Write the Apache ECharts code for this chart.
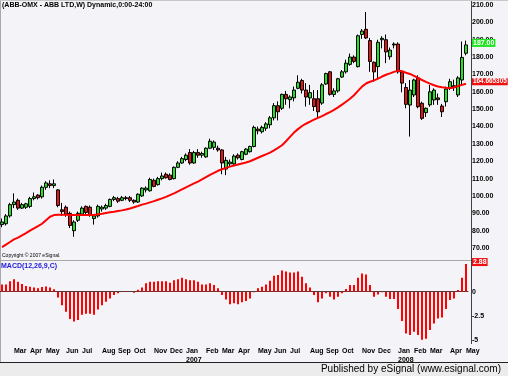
<!DOCTYPE html>
<html>
<head>
<meta charset="utf-8">
<script src="https://cdn.jsdelivr.net/npm/echarts@6/dist/echarts.min.js"></script>
<style>
html,body{margin:0;padding:0;background:#f4f3f7}
#chart{width:508px;height:376px}
</style>
</head>
<body>
<div id="chart"></div>
<script>
// weekly bars, first week starts Monday 2006-02-13
var firstWeek = Date.UTC(2006, 1, 13);
var monthNames = ['Jan','Feb','Mar','Apr','May','Jun','Jul','Aug','Sep','Oct','Nov','Dec'];

var opens = [83.5,84,88.5,95,97.5,93,93.5,94,98.5,100.5,
  99.5,105,107,106,103.5,92,93.5,90,80,86,
  89.5,94,93.5,87,88.5,92.5,93,94,98,98.5,
  97.5,99,99,97.5,96.5,100,103.5,103,109,106.5,
  110,112.5,112,110,116.5,119,121,125,119,125,
  123.5,122.5,127.5,128,127.5,126.5,115.5,118.5,118.5,123.5,
  121,124,125.5,128.5,138.5,137,139,141,145,152,
  150.5,158.5,155.5,156.5,162,166.5,161,156.5,156,156,
  153.5,164.5,171.5,158.5,160.5,168.5,171.5,175.8,180,174.5,
  193,196,189.5,177,174.5,190,190,180.2,187.5,187.5,
  171.5,162.5,152.4,158.2,168,153.4,148,152.5,155.3,156.5,
  151.8,154.3,162,163.5,158.2,166.8,182.2];
var closes = [85,88.5,95,96.5,93,95,95.5,98.5,99.5,99,
  105,107.5,106,107,94.5,91,89.5,83,85,90,
  93,90.5,89,88.5,94,93.5,94.5,98,99,97,
  99,98.5,97.5,96.5,101,104.5,104.5,109.5,105.5,110,
  111.5,110.5,109.5,116.5,119,121.5,123.5,119,125,123.5,
  124.5,127.5,131.5,131,126.5,119,120.5,119.5,123,122,
  125.5,127,128.5,139.5,137.5,139.5,141.5,145,152,148.5,
  158.5,156,157,161,165.5,161,157,159.5,151.5,148.5,
  164,170.5,158.5,160.5,167.5,171.5,176.5,180,177.5,192.3,
  195,191,177.5,171.5,188.5,190.8,183,184,187,171.5,
  165,152.8,161,166.8,151.4,144.7,150.5,160,161,155.5,
  148.5,161.6,165.8,162.5,168,179.8,187];
var lows = [82,83,87.5,93,92,92.5,92.5,93,97.5,98,
  98.5,103.5,104.5,104.5,93.5,88.5,88,81.5,76.5,85,
  88.5,89.5,88,83.5,87.5,91,92,93.5,97,96,
  97,97.5,96.5,95.5,96,99.5,102,102.5,105,106,
  109,110,109,109.5,116,118.5,120,118,118.5,122,
  122,122,127,126.5,125.5,112.5,112,117,117.5,121,
  120.5,123.5,125,128,135.5,136,137.5,139,143.5,143.5,
  149.5,152.5,150.5,154.5,161.5,159,151.5,152.5,149,144.5,
  152.5,164,157.8,157,159.5,168,170.5,175,176.5,174,
  190.5,190.5,171.5,165.8,168,185,176.5,178.5,185,170.5,
  159.7,150.5,134.2,157,150.5,143.8,145.5,151.4,152.5,152.5,
  145.5,151.5,161,160.5,157,163.5,181];
var highs = [87,89.5,96,101.5,98.5,96,96,99.5,102,101,
  106,108.5,109,109.5,104,96,94.5,91,86,91,
  94,94.5,94.5,89.5,95,94.5,95.5,98.5,100,99.5,
  100,100,100,98,101.5,105,105.5,110.5,110,111,
  113.5,113.5,113,117,120,122.5,124.5,127,126,127,
  125.5,128,133,132,129,127,122.5,121,124,124.5,
  126,127.5,129,140.5,140,140.5,142.5,146,153.5,154.5,
  159,160.5,158,163,169.5,167.5,165,164,161,161,
  165,171,172,162,168,172.5,178.5,182,181,193,
  196.2,206,191,177.5,190,192,193,185.5,188.5,188.5,
  172.5,165,166.8,167.5,169.5,154.3,151,164,162,159,
  153,163,167.5,167,169,189,189.5];
var maValues = [70.5,72,73.5,75,76,77.3,78.6,80,81.3,82.6,
  84,86,88,89,89.2,89.2,89.2,89.1,89,89,
  89,89,89,89,89.5,89.8,90.2,90.6,90.9,91.3,
  91.7,92.2,92.8,93.5,94.2,95,95.6,96.3,97,97.8,
  98.6,99.5,100.5,101.5,102.6,103.8,105,106.1,107.2,108.3,
  109.5,110.8,112.1,113.3,114.5,115.4,116.2,116.9,117.5,118.1,
  118.7,119.3,120,121,122,123,124,125,126.3,127.7,
  129.2,131.5,134,136.5,138.5,140.3,141.6,142.8,144,145,
  146,147.2,148.3,149.6,151,152.6,154.3,156,158,160.5,
  163,164.8,165.8,166.6,167.6,168.8,169.8,170.6,171.5,172.2,
  171.8,171,170.3,169.2,168,166.8,165.7,164.7,163.8,163.1,
  162.6,162.3,162.2,162.5,163.3,164,164.665305];
var macdValues = [0.76,0.76,1.1,1.3,1.04,0.8,0.6,0.52,0.45,0.35,
  0.5,0.55,0.45,0.25,-0.6,-1.4,-2.1,-2.85,-3.1,-2.95,
  -2.4,-2.3,-2.3,-2.4,-1.85,-1.4,-1.05,-0.7,-0.35,-0.17,
  -0.03,0.07,-0.04,-0.1,0.2,0.45,0.87,1.04,1.04,1.1,
  1.1,1.1,0.94,1.2,1.3,1.46,1.3,1.2,1.2,1.04,
  0.76,0.76,0.87,0.7,0.35,-0.35,-0.8,-1.3,-1.2,-1.3,
  -1.1,-0.97,-0.7,-0.07,0.35,0.52,0.76,1.15,1.67,1.74,
  2.2,2.1,2.0,2.0,2.1,1.56,0.87,0.45,-0.35,-1.1,
  -0.7,-0.17,-0.52,-0.8,-0.52,-0.17,0.28,0.7,0.7,1.46,
  1.9,1.8,0.7,-0.52,-0.28,-0.07,-0.52,-0.76,-0.76,-1.8,
  -3.05,-4.35,-4.5,-4.17,-4.5,-5.0,-4.9,-4.0,-3.3,-2.8,
  -2.7,-1.8,-0.87,-0.7,0.17,1.46,2.88];
var priceLabels = [70,80,90,100,110,120,130,140,150,160,170,180,190,200,210];
var macdLabels = [0,-2.5,-5];

var weeks = [];
for (var i = 0; i < closes.length; i++) {
  weeks.push(new Date(firstWeek + i * 7 * 86400000).toISOString().slice(0, 10));
}
var candles = weeks.map(function (w, i) {
  return [opens[i], closes[i], lows[i], highs[i]];
});
var lastClose = closes[closes.length - 1];
var lastMa = maValues[maValues.length - 1];
var lastMacd = macdValues[macdValues.length - 1];

function isMonthStart(value) {
  return +value.slice(8, 10) <= 7;
}

var font = 'Liberation Sans';
var chart = echarts.init(document.getElementById('chart'));

// value box drawn at the right end of an invisible mark line
function boxLabel(value, text, bg, size) {
  return {
    silent: true,
    symbol: ['none', 'none'],
    animation: false,
    lineStyle: {color: 'rgba(0,0,0,0)', width: 0, type: 'solid'},
    label: {
      show: true, position: 'end', distance: 4, formatter: text,
      backgroundColor: bg, color: '#fff', fontFamily: font, fontSize: size || 7,
      fontWeight: 'bold', padding: [1, 1, 0, 1], offset: [0, -2]
    },
    emphasis: {disabled: true},
    data: [{yAxis: value}]
  };
}

var option = {
  animation: false,
  backgroundColor: '#f4f3f7',
  grid: [
    {left: 0, right: 40, top: 0, height: 265.4},
    {left: 0, right: 40, top: 243.7, height: 120}
  ],
  xAxis: [
    {type: 'category', gridIndex: 0, data: weeks, show: false},
    {
      type: 'category', gridIndex: 1, data: weeks, offset: -19.7,
      axisLine: {lineStyle: {color: '#404040', width: 1}},
      axisTick: {show: false},
      axisLabel: {
        interval: function (idx, value) { return isMonthStart(value); },
        formatter: function (value) {
          var m = +value.slice(5, 7) - 1;
          return m === 0 ? monthNames[m] + '\n' + value.slice(0, 4) : monthNames[m];
        },
        align: 'left', margin: 3, color: '#000', fontFamily: font,
        fontSize: 7, fontWeight: 'bold', lineHeight: 9
      }
    }
  ],
  yAxis: [
    {
      type: 'value', gridIndex: 0, position: 'right', min: 60, max: 212.88, interval: 10,
      axisLine: {show: false}, axisTick: {show: false}, splitLine: {show: false},
      axisLabel: {
        margin: 4, color: '#000', fontFamily: font, fontSize: 7, fontWeight: 'bold',
        showMaxLabel: false,
        formatter: function (v) { return priceLabels.indexOf(v) >= 0 ? v.toFixed(2) : ''; }
      }
    },
    {
      type: 'value', gridIndex: 1, position: 'right', min: -7.5, max: 5, interval: 2.5,
      axisLine: {show: false}, axisTick: {show: false}, splitLine: {show: false},
      axisLabel: {
        margin: 4, color: '#000', fontFamily: font, fontSize: 7, fontWeight: 'bold',
        formatter: function (v) { return macdLabels.indexOf(v) >= 0 ? String(v) : ''; }
      }
    }
  ],
  series: [
    {
      type: 'candlestick', xAxisIndex: 0, yAxisIndex: 0, data: candles, barWidth: 3,
      itemStyle: {color: '#1ee61e', color0: '#ee1010', borderColor: '#000', borderColor0: '#000', borderWidth: 1},
      markLine: boxLabel(lastClose, lastClose.toFixed(2), '#1ee61e')
    },
    {
      type: 'line', xAxisIndex: 0, yAxisIndex: 0, data: maValues, symbol: 'none',
      lineStyle: {color: '#ff0000', width: 2},
      markLine: boxLabel(lastMa, String(lastMa), '#ee1010', 6.4)
    },
    {
      type: 'bar', xAxisIndex: 1, yAxisIndex: 1, data: macdValues, barWidth: 2,
      itemStyle: {color: '#ff0000'},
      markLine: boxLabel(lastMacd, lastMacd.toFixed(2), '#ee1010')
    }
  ],
  graphic: [
    {type: 'rect', shape: {x: 0, y: 362, width: 508, height: 14}, style: {fill: '#ececec'}, z: -1},
    {type: 'line', shape: {x1: 0, y1: 362.5, x2: 508, y2: 362.5}, style: {stroke: '#222', lineWidth: 1}},
    {type: 'line', shape: {x1: 0, y1: 260.5, x2: 471, y2: 260.5}, style: {stroke: '#a8a8a8', lineWidth: 1}},
    {type: 'line', shape: {x1: 471.5, y1: 0, x2: 471.5, y2: 344}, style: {stroke: '#404040', lineWidth: 1}},
    {type: 'line', shape: {x1: 0.5, y1: 0, x2: 0.5, y2: 362}, style: {stroke: '#a8a8a8', lineWidth: 1}},
    {type: 'line', shape: {x1: 0, y1: 0.5, x2: 508, y2: 0.5}, style: {stroke: '#c8c8c8', lineWidth: 1}},
    {type: 'text', left: 2, top: 2, style: {text: '(ABB-OMX - ABB LTD,W) Dynamic,0:00-24:00', fill: '#000', font: 'bold 7px "Liberation Sans"'}},
    {type: 'text', left: 2, top: 253, style: {text: 'Copyright \u00a9 2007 eSignal.', fill: '#000', font: '5px "Liberation Sans"'}},
    {type: 'text', left: 1, top: 263, style: {text: 'MACD(12,26,9,C)', fill: '#2020e0', font: 'bold 7px "Liberation Sans"'}},
    {type: 'text', right: 7, top: 364, style: {text: 'Published by eSignal (www.esignal.com)', fill: '#000', font: '10px "Liberation Sans"'}}
  ]
};
chart.setOption(option);
</script>
</body>
</html>
